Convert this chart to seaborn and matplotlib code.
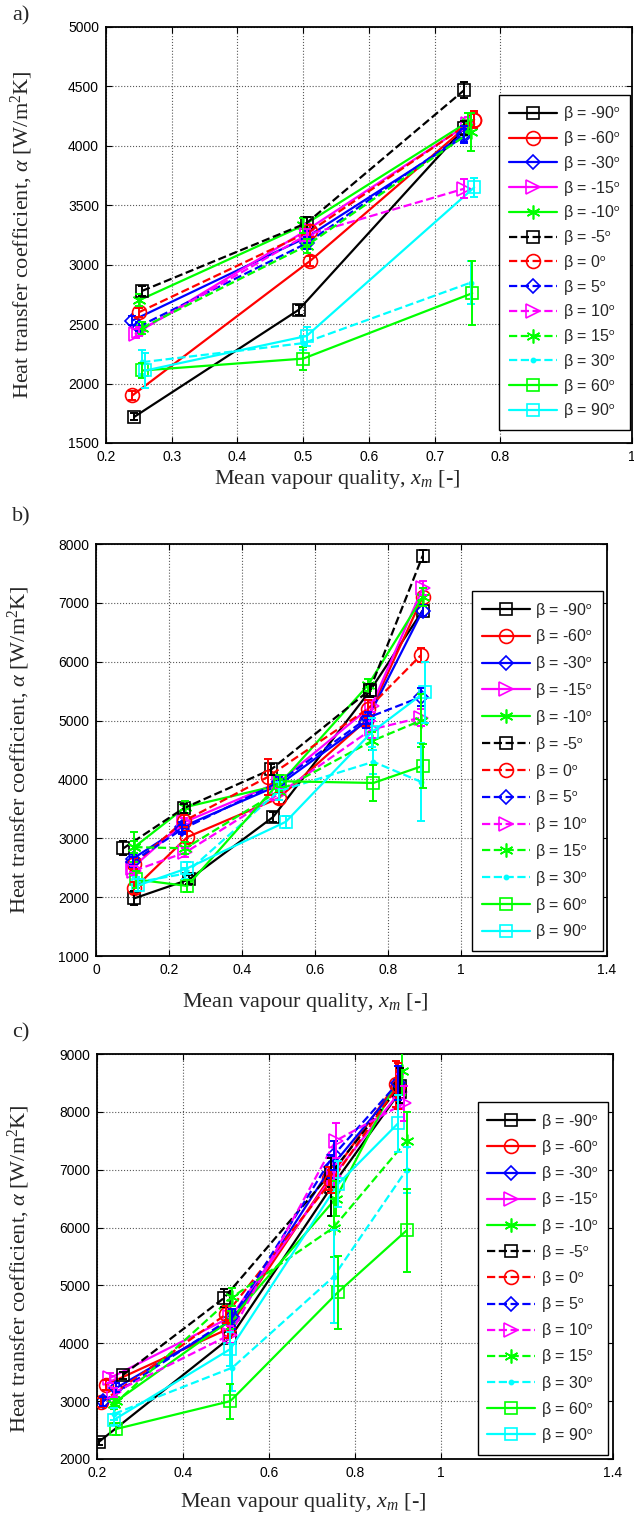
import numpy as np
import pandas as pd
import matplotlib
matplotlib.use("Agg")
import matplotlib.pyplot as plt
import seaborn as sns
from matplotlib.font_manager import FontProperties

# ---------------- data ----------------
BETAS = [-90, -60, -30, -15, -10, -5, 0, 5, 10, 15, 30, 60, 90]

# panel a)
A_X = [[0.243, 0.493, 0.745], [0.240, 0.510, 0.760], [0.240, 0.505, 0.745],
       [0.245, 0.505, 0.750], [0.250, 0.500, 0.750], [0.255, 0.505, 0.745],
       [0.250, 0.510, 0.760], [0.250, 0.505, 0.745], [0.250, 0.505, 0.745],
       [0.255, 0.505, 0.755], [0.255, 0.500, 0.755], [0.255, 0.500, 0.757],
       [0.260, 0.505, 0.760]]
A_Y = [[1720, 2620, 4150], [1900, 3030, 4220], [2530, 3230, 4080],
       [2420, 3290, 4180], [2700, 3330, 4200], [2780, 3350, 4470],
       [2600, 3280, 4220], [2480, 3180, 4100], [2440, 3250, 3640],
       [2470, 3160, 4120], [2180, 2340, 2850], [2110, 2210, 2760],
       [2110, 2400, 3650]]
A_E = [[30, 40, 60], [40, 40, 60], [40, 50, 60], [40, 50, 60], [50, 60, 80],
       [40, 50, 70], [40, 50, 70], [40, 50, 70], [40, 50, 80], [50, 60, 160],
       [100, 60, 180], [60, 100, 270], [150, 80, 80]]

# panel b)
B_X = [[0.105, 0.255, 0.485, 0.750, 0.895], [0.105, 0.250, 0.500, 0.740, 0.895],
       [0.100, 0.235, 0.500, 0.740, 0.895], [0.100, 0.240, 0.500, 0.755, 0.895],
       [0.105, 0.245, 0.500, 0.745, 0.895], [0.075, 0.240, 0.480, 0.750, 0.895],
       [0.105, 0.240, 0.470, 0.745, 0.890], [0.100, 0.235, 0.500, 0.745, 0.890],
       [0.105, 0.245, 0.500, 0.755, 0.890], [0.105, 0.245, 0.500, 0.755, 0.890],
       [0.110, 0.245, 0.500, 0.760, 0.890], [0.110, 0.250, 0.505, 0.760, 0.895],
       [0.115, 0.250, 0.520, 0.755, 0.900]]
B_Y = [[1980, 2300, 3360, 5500, 6870], [2150, 3020, 3680, 5000, 7100],
       [2650, 3190, 3900, 4980, 6870], [2500, 3270, 3950, 5250, 7250],
       [2850, 3530, 3900, 5600, 7100], [2830, 3510, 4170, 5520, 7800],
       [2570, 3290, 4040, 5200, 6110], [2600, 3150, 3950, 5050, 5400],
       [2450, 2760, 3750, 4850, 5050], [2850, 2830, 3800, 4650, 5000],
       [2250, 2400, 3800, 4300, 3960], [2300, 2190, 3970, 3940, 4230],
       [2200, 2490, 3280, 4800, 5480]]
B_E = [[120, 80, 80, 100, 100], [100, 100, 100, 100, 150], [80, 80, 100, 100, 100],
       [80, 80, 100, 100, 120], [250, 100, 100, 100, 150], [120, 80, 100, 100, 100],
       [100, 100, 300, 150, 120], [80, 80, 100, 100, 150], [80, 80, 100, 150, 150],
       [100, 100, 150, 150, 450], [100, 100, 150, 200, 660], [150, 100, 100, 300, 370],
       [100, 100, 100, 250, 520]]

# panel c)
C_X = [[0.205, 0.510, 0.745, 0.905], [0.220, 0.505, 0.740, 0.895],
       [0.245, 0.515, 0.745, 0.900], [0.230, 0.510, 0.750, 0.905],
       [0.245, 0.510, 0.755, 0.910], [0.260, 0.495, 0.745, 0.905],
       [0.210, 0.500, 0.745, 0.900], [0.215, 0.515, 0.750, 0.900],
       [0.240, 0.510, 0.755, 0.915], [0.240, 0.515, 0.750, 0.920],
       [0.240, 0.515, 0.750, 0.920], [0.245, 0.510, 0.760, 0.920],
       [0.240, 0.510, 0.760, 0.900]]
C_Y = [[2300, 4100, 6700, 8350], [3280, 4250, 6850, 8480],
       [3230, 4400, 7050, 8450], [3400, 4450, 6900, 8350],
       [3000, 4400, 6500, 8700], [3450, 4780, 6950, 8450],
       [2980, 4500, 6800, 8450], [3000, 4450, 7250, 8500],
       [3150, 4150, 7500, 8150], [2950, 4800, 6000, 7500],
       [2780, 3580, 5150, 7000], [2520, 3000, 4880, 5950],
       [2680, 3900, 6750, 7800]]
C_E = [[50, 100, 500, 300], [80, 150, 200, 400], [80, 150, 200, 400],
       [80, 150, 200, 300], [80, 150, 300, 400], [60, 150, 250, 300],
       [80, 150, 200, 400], [80, 150, 250, 300], [80, 150, 300, 300],
       [80, 150, 500, 500], [100, 400, 800, 400], [100, 300, 630, 720],
       [100, 300, 400, 500]]

A_XTICKS = [0.2, 0.3, 0.4, 0.5, 0.6, 0.7, 0.8, 1.0]
A_XTICKLABELS = ["0.2", "0.3", "0.4", "0.5", "0.6", "0.7", "0.8", "1"]
A_YTICKS = [1500, 2000, 2500, 3000, 3500, 4000, 4500, 5000]
B_XTICKS = [0, 0.2, 0.4, 0.6, 0.8, 1.0, 1.4]
B_XTICKLABELS = ["0", "0.2", "0.4", "0.6", "0.8", "1", "1.4"]
B_YTICKS = [1000, 2000, 3000, 4000, 5000, 6000, 7000, 8000]
C_XTICKS = [0.2, 0.4, 0.6, 0.8, 1.0, 1.4]
C_XTICKLABELS = ["0.2", "0.4", "0.6", "0.8", "1", "1.4"]
C_YTICKS = [2000, 3000, 4000, 5000, 6000, 7000, 8000, 9000]

# ---------------- styles ----------------
COLORS = ['#000000', '#ff0000', '#0000ff', '#ff00ff', '#00ff00',
          '#000000', '#ff0000', '#0000ff', '#ff00ff', '#00ff00',
          '#00ffff', '#00ff00', '#00ffff']
LSTYLES = ['-', '-', '-', '-', '-', '--', '--', '--', '--', '--', '--', '-', '-']
MARKERS = ['s', 'o', 'D', '>', (6, 2, 0), 's', 'o', 'D', '>', (6, 2, 0), '.', 's', 's']
MSIZES = [8.5, 10, 7.5, 10, 10, 8.5, 10, 7.5, 10, 10, 6, 8.5, 8.5]

sns.set_theme(style="ticks")
plt.rcParams['font.family'] = ['Liberation Sans', 'DejaVu Sans']
plt.rcParams['mathtext.fontset'] = 'custom'
plt.rcParams['mathtext.rm'] = 'Liberation Serif'
plt.rcParams['mathtext.it'] = 'Liberation Serif:italic'
plt.rcParams['axes.linewidth'] = 1.0

W, H = 634, 1526
fig = plt.figure(figsize=(W / 100, H / 100), dpi=100)


def px_axes(l, r, t, b):
    return fig.add_axes([l / W, 1 - b / H, (r - l) / W, (b - t) / H])


serif = FontProperties(family='Liberation Serif', size=16)
legprop = FontProperties(family='Liberation Sans', size=11.5, math_fontfamily='stixsans')


def draw(ax, X, Y, E, xlim, ylim, xticks, xticklabels, yticks, leg_anchor, labelspacing,
         xlab_xy, ylab_xy):
    ax.set_facecolor('white')
    ax.grid(True, linestyle=':', color='0.35', linewidth=0.8)
    ax.set_axisbelow(True)
    for i, b in enumerate(BETAS):
        c = COLORS[i]
        fc = c if MARKERS[i] == '.' else 'none'
        df = pd.DataFrame({'x': X[i], 'y': Y[i]})
        sns.lineplot(data=df, x='x', y='y', ax=ax, sort=False, estimator=None,
                     color=c, linestyle=LSTYLES[i], linewidth=1.6,
                     marker=MARKERS[i], markersize=MSIZES[i],
                     markerfacecolor=fc, markeredgecolor=c, markeredgewidth=1.2,
                     label="\u03b2 = %d$^{\\mathrm{o}}$" % b, legend=False)
        ax.errorbar(X[i], Y[i], yerr=E[i], fmt='none', ecolor=c, elinewidth=1.4,
                    capsize=3, capthick=1.4, zorder=3)
    ax.set_xlim(*xlim)
    ax.set_ylim(*ylim)
    ax.set_xticks(xticks)
    ax.set_xticklabels(xticklabels)
    ax.set_yticks(yticks)
    ax.tick_params(direction='in', top=True, right=True, length=4, width=0.8,
                   labelsize=10, colors='black', pad=5)
    for s in ax.spines.values():
        s.set_color('black')
        s.set_linewidth(1.3)
    ax.set_xlabel(r"Mean vapour quality, $x_m$ [-]", fontproperties=serif)
    ax.set_ylabel(r"Heat transfer coefficient, $\alpha$ [W/m$^2$K]", fontproperties=serif)
    ax.xaxis.set_label_coords(*xlab_xy)
    ax.yaxis.set_label_coords(*ylab_xy)
    h, l = ax.get_legend_handles_labels()
    leg = ax.legend(h, l, loc='upper left', bbox_to_anchor=leg_anchor, prop=legprop,
                    frameon=True, fancybox=False, edgecolor='black', framealpha=1,
                    handlelength=3.0, handletextpad=0.35, labelspacing=labelspacing,
                    borderpad=0.6, borderaxespad=0, numpoints=1)
    leg.get_frame().set_linewidth(1.0)
    return ax


axa = px_axes(106, 632, 27, 443)
draw(axa, A_X, A_Y, A_E, (0.2, 1.0), (1500, 5000), A_XTICKS, A_XTICKLABELS, A_YTICKS,
     (0.748, 0.837), 0.36, (0.44, -0.06), (-0.135, 0.5))
axb = px_axes(96, 607, 544, 956)
draw(axb, B_X, B_Y, B_E, (0, 1.4), (1000, 8000), B_XTICKS, B_XTICKLABELS, B_YTICKS,
     (0.736, 0.886), 0.49, (0.41, -0.085), (-0.125, 0.5))
axc = px_axes(97, 613, 1054, 1459)
draw(axc, C_X, C_Y, C_E, (0.2, 1.4), (2000, 9000), C_XTICKS, C_XTICKLABELS, C_YTICKS,
     (0.738, 0.881), 0.45, (0.40, -0.08), (-0.125, 0.47))

for lab, y in [("a)", 16), ("b)", 517), ("c)", 1033)]:
    fig.text(12 / W, 1 - y / H, lab, fontproperties=serif, va='center', ha='left')

fig.savefig("out.png", dpi=100, facecolor='white')
